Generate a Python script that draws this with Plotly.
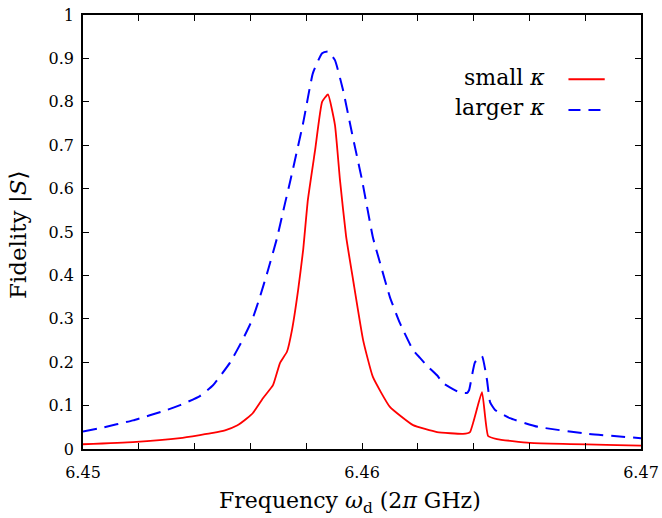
import plotly.graph_objects as go

# ---- data ----
freq_small = [6.45000, 6.45179, 6.45348, 6.45419, 6.45466, 6.45509, 6.45552, 6.45588,
              6.45609, 6.45645, 6.45681, 6.45706, 6.45731, 6.45749, 6.45771, 6.45789,
              6.45806, 6.45832, 6.45857, 6.45878, 6.45903, 6.45921, 6.45943, 6.45968,
              6.46004, 6.46039, 6.46100, 6.46183, 6.46269, 6.46362, 6.46387, 6.46430,
              6.46452, 6.46484, 6.46602, 6.47000]
fid_small = [0.011, 0.016, 0.025, 0.032, 0.037, 0.043, 0.054, 0.071,
             0.083, 0.117, 0.147, 0.198, 0.224, 0.274, 0.366, 0.458,
             0.574, 0.689, 0.800, 0.817, 0.747, 0.620, 0.490, 0.390,
             0.251, 0.166, 0.097, 0.055, 0.039, 0.035, 0.039, 0.131,
             0.030, 0.023, 0.014, 0.008]

freq_large = [6.45000, 6.45061, 6.45179, 6.45301, 6.45348, 6.45419, 6.45466, 6.45527,
              6.45570, 6.45606, 6.45634, 6.45663, 6.45695, 6.45724, 6.45742, 6.45789,
              6.45824, 6.45857, 6.45878, 6.45903, 6.45932, 6.45964, 6.46000, 6.46039,
              6.46065, 6.46100, 6.46136, 6.46183, 6.46208, 6.46233, 6.46269, 6.46290,
              6.46315, 6.46351, 6.46376, 6.46384, 6.46405, 6.46430, 6.46448, 6.46459,
              6.46477, 6.46530, 6.46631, 6.46810, 6.47000]
fid_large = [0.040, 0.048, 0.066, 0.090, 0.101, 0.122, 0.147, 0.199,
             0.249, 0.297, 0.350, 0.412, 0.485, 0.566, 0.615, 0.751,
             0.866, 0.912, 0.916, 0.896, 0.827, 0.728, 0.620, 0.488,
             0.428, 0.350, 0.290, 0.228, 0.210, 0.192, 0.170, 0.152,
             0.142, 0.130, 0.129, 0.136, 0.200, 0.214, 0.159, 0.108,
             0.090, 0.071, 0.051, 0.035, 0.025]

x_major_ticks = [6.45, 6.46, 6.47]
x_major_text = ["6.45", "6.46", "6.47"]
x_minor_ticks = [6.452, 6.454, 6.456, 6.458, 6.462, 6.464, 6.466, 6.468]
y_tickvals = [0, 0.1, 0.2, 0.3, 0.4, 0.5, 0.6, 0.7, 0.8, 0.9, 1.0]
y_ticktext = ["0", "0.1", "0.2", "0.3", "0.4", "0.5", "0.6", "0.7", "0.8", "0.9", "1"]

series_names = ["small <i>κ</i>", "larger <i>κ</i>"]
x_title = "Frequency <i>ω</i><sub>d</sub> (2<i>π</i> GHz)"
y_title = "Fidelity |<i>S</i>⟩"

FONT = "DejaVu Serif"
RED = "#ff0000"
BLUE = "#0000ff"
DASH = "14px,8px"

fig = go.Figure()
fig.add_trace(go.Scatter(x=freq_small, y=fid_small, mode="lines",
                         line=dict(color=RED, width=1.8, shape="spline", smoothing=0.4),
                         showlegend=False))
fig.add_trace(go.Scatter(x=freq_large, y=fid_large, mode="lines",
                         line=dict(color=BLUE, width=2, dash=DASH, shape="spline", smoothing=0.4),
                         showlegend=False))

axis_common = dict(
    showgrid=False, zeroline=False, showline=True, linecolor="black", linewidth=1.5,
    mirror="ticks", ticks="inside", ticklen=6, tickcolor="black", tickwidth=1,
    tickfont=dict(family=FONT, size=16, color="black"), automargin=False,
)

fig.update_xaxes(**axis_common, range=[6.45, 6.47], tickmode="array",
                 tickvals=x_major_ticks, ticktext=x_major_text, ticklabelstandoff=8,
                 minor=dict(tickmode="array", tickvals=x_minor_ticks, ticks="inside",
                            ticklen=6, tickcolor="black", tickwidth=1, showgrid=False))
fig.update_yaxes(**axis_common, range=[0, 1], tickmode="array",
                 tickvals=y_tickvals, ticktext=y_ticktext, ticklabelstandoff=4)

# axis titles as annotations (placed as in the reference)
fig.add_annotation(x=0.4785, y=-0.124, xref="paper", yref="paper", text=x_title,
                   showarrow=False, xanchor="center", yanchor="middle",
                   font=dict(family=FONT, size=22, color="black"))
fig.add_annotation(x=-0.1165, y=0.493, xref="paper", yref="paper", text=y_title,
                   showarrow=False, xanchor="center", yanchor="middle", textangle=-90,
                   font=dict(family=FONT, size=23, color="black"))

# custom legend: text on the left, line sample on the right
leg_y = [0.857, 0.786]
leg_styles = [dict(color=RED, width=1.8), dict(color=BLUE, width=2, dash="12px,8px")]
for name, yy, st in zip(series_names, leg_y, leg_styles):
    fig.add_annotation(x=0.832, y=yy, xref="paper", yref="paper", text=name,
                       showarrow=False, xanchor="right", yanchor="middle",
                       font=dict(family=FONT, size=22, color="black"))
    fig.add_shape(type="line", xref="paper", yref="paper", x0=0.870, x1=0.935,
                  y0=yy - 0.005, y1=yy - 0.005, line=st)

fig.update_layout(
    width=662, height=518,
    margin=dict(l=83, r=21, t=15, b=69),
    paper_bgcolor="white", plot_bgcolor="white",
    font=dict(family=FONT, color="black"),
)

# remove the default 8px page margin so the figure fills the window exactly
fig.write_html("out.html", config={"displayModeBar": False},
               post_script="document.body.style.margin='0px';document.body.style.overflow='hidden';")
